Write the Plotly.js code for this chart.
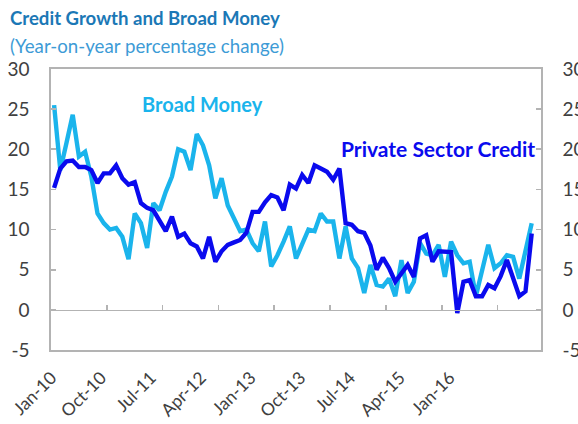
<!DOCTYPE html>
<html>
<head>
<meta charset="utf-8">
<script src="https://cdn.plot.ly/plotly-3.0.1.min.js"></script>
<style>
  html, body { margin: 0; padding: 0; background: #ffffff; }
  #chart { width: 578px; height: 424px; }
</style>
</head>
<body>
<div id="chart"></div>
<script>
// Monthly observations, Jan-10 .. Jun-16 (year-on-year % change)
const startYear = 2010;
const monthNames = ['Jan','Feb','Mar','Apr','May','Jun','Jul','Aug','Sep','Oct','Nov','Dec'];

const broadMoney = [
  25.5, 17.4, 20.8, 24.3, 19.1, 19.7, 16.6, 12.0, 10.8, 10.0,
  10.2, 9.1, 6.3, 12.0, 10.8, 7.7, 13.3, 12.4, 14.7, 16.6,
  20.0, 19.7, 17.4, 21.9, 20.5, 18.0, 13.9, 16.4, 13.0, 11.3,
  9.8, 10.0, 8.3, 7.3, 11.0, 5.4, 6.8, 8.5, 10.4, 6.4,
  8.3, 10.0, 9.8, 12.0, 11.0, 11.0, 6.4, 10.4, 6.4, 5.2,
  2.1, 5.6, 3.1, 2.9, 3.9, 1.7, 6.2, 2.1, 3.5, 8.3,
  7.0, 6.8, 8.1, 4.1, 8.5, 6.8, 5.8, 6.0, 1.7, 5.0,
  8.1, 5.2, 5.8, 6.8, 6.6, 3.9, 7.5, 10.8
];

const privateCredit = [
  15.2, 17.6, 18.5, 18.6, 17.8, 17.8, 17.4, 15.8, 17.0, 17.0,
  18.0, 16.4, 15.6, 15.9, 13.3, 12.7, 12.4, 11.2, 9.8, 11.6,
  9.1, 9.5, 8.3, 7.9, 6.4, 9.1, 6.0, 7.3, 8.1, 8.4,
  8.7, 9.6, 12.2, 12.2, 13.4, 14.3, 14.0, 12.4, 15.6, 15.1,
  16.8, 15.8, 18.0, 17.6, 17.2, 16.2, 17.6, 10.8, 10.6, 9.8,
  9.6, 8.0, 5.0, 6.5, 5.2, 3.5, 4.5, 5.6, 4.1, 8.9,
  9.3, 6.0, 7.3, 7.3, 7.2, -0.4, 3.5, 3.7, 1.7, 1.7,
  3.1, 2.7, 4.2, 6.2, 4.0, 1.7, 2.3, 9.5
];

const tickLabels = ['Jan-10','Oct-10','Jul-11','Apr-12','Jan-13','Oct-13','Jul-14','Apr-15','Jan-16'];
const yTicks = [-5, 0, 5, 10, 15, 20, 25, 30];
const yTickText = ['-5', '0', '5', '10', '15', '20', '25', '30'];

const monthIdx = broadMoney.map((_, i) => i);
const monthText = monthIdx.map(i => monthNames[i % 12] + '-' + String((startYear + Math.floor(i / 12)) % 100).padStart(2, '0'));
const labelIdx = tickLabels.map((_, k) => k);
const tickMarkPos = tickLabels.slice(1).map((_, k) => (k + 1) * 9 - 0.5);

const FONT = 'Lato, "Open Sans", "DejaVu Sans", sans-serif';
const AXIS_GREY = '#b3b3b3';
const LIGHT = '#1ab4ec';
const DARK = '#0a0aee';

const traces = [
  {
    x: monthIdx, y: broadMoney, text: monthText, type: 'scatter', mode: 'lines',
    name: 'Broad Money', line: { color: LIGHT, width: 4.4 },
    hovertemplate: '%{text}: %{y}<extra>Broad Money</extra>'
  },
  {
    x: monthIdx, y: privateCredit, text: monthText, type: 'scatter', mode: 'lines',
    name: 'Private Sector Credit', line: { color: DARK, width: 4.4 },
    hovertemplate: '%{text}: %{y}<extra>Private Sector Credit</extra>'
  },
  {
    x: labelIdx, y: labelIdx.map(() => null), xaxis: 'x2', yaxis: 'y2',
    type: 'scatter', mode: 'lines', showlegend: false, hoverinfo: 'skip'
  }
];

const layout = {
  width: 578, height: 424,
  margin: { l: 51, r: 37, t: 69, b: 74, pad: 0 },
  paper_bgcolor: '#ffffff', plot_bgcolor: '#ffffff',
  showlegend: false,
  font: { family: FONT, color: '#404040' },
  xaxis: {
    range: [-0.5, 78.5], anchor: 'free', position: 5 / 35,
    showgrid: false, zeroline: false,
    showline: true, linecolor: AXIS_GREY, linewidth: 1.6,
    ticks: 'inside', ticklen: 5, tickwidth: 1.6, tickcolor: AXIS_GREY,
    tickmode: 'array', tickvals: tickMarkPos, showticklabels: false
  },
  xaxis2: {
    overlaying: 'x', anchor: 'y2', side: 'bottom',
    range: [-0.01, 9.83],
    showgrid: false, zeroline: false,
    showline: true, mirror: true, linecolor: AXIS_GREY, linewidth: 1.6,
    ticks: '', tickmode: 'array', tickvals: labelIdx, ticktext: tickLabels,
    tickangle: -45, ticklabelstandoff: 9,
    tickfont: { family: FONT, size: 17.5, color: '#404040' }
  },
  yaxis: {
    range: [-5, 30], tickmode: 'array', tickvals: yTicks, ticktext: yTickText,
    showgrid: false, zeroline: false,
    showline: true, linecolor: AXIS_GREY, linewidth: 1.6,
    ticks: 'inside', ticklen: 5, tickwidth: 1.6, tickcolor: AXIS_GREY,
    ticklabelstandoff: 16,
    tickfont: { family: FONT, size: 19, color: '#404040' }
  },
  yaxis2: {
    overlaying: 'y', side: 'right', anchor: 'x2',
    range: [-5, 30], tickmode: 'array', tickvals: yTicks, ticktext: yTickText,
    showgrid: false, zeroline: false,
    showline: true, linecolor: AXIS_GREY, linewidth: 1.6,
    ticks: 'inside', ticklen: 5, tickwidth: 1.6, tickcolor: AXIS_GREY,
    ticklabelstandoff: 16,
    tickfont: { family: FONT, size: 19, color: '#404040' }
  },
  annotations: [
    {
      text: '<b>Credit Growth and Broad Money</b>', xref: 'paper', yref: 'paper',
      x: (8 - 51) / 490, y: (350 - 18) / 281, xanchor: 'left', yanchor: 'middle',
      showarrow: false, font: { family: FONT, size: 18.6, color: '#1b78b6' }
    },
    {
      text: '(Year-on-year percentage change)', xref: 'paper', yref: 'paper',
      x: (8 - 51) / 490, y: (350 - 46) / 281, xanchor: 'left', yanchor: 'middle',
      showarrow: false, font: { family: FONT, size: 18.7, color: '#3d9bd6' }
    },
    {
      text: '<b>Broad Money</b>', xref: 'paper', yref: 'paper',
      x: (202 - 51) / 490, y: (350 - 104) / 281, xanchor: 'center', yanchor: 'middle',
      showarrow: false, font: { family: FONT, size: 20, color: LIGHT }
    },
    {
      text: '<b>Private Sector Credit</b>', xref: 'paper', yref: 'paper',
      x: (438 - 51) / 490, y: (350 - 148) / 281, xanchor: 'center', yanchor: 'middle',
      showarrow: false, font: { family: FONT, size: 21, color: DARK }
    }
  ]
};

Plotly.newPlot('chart', traces, layout, { displayModeBar: false, staticPlot: true });
</script>
</body>
</html>
